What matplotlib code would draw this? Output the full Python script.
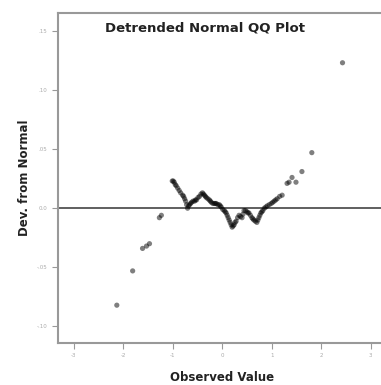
import matplotlib
matplotlib.use('Agg')
from matplotlib import pyplot as plt
import numpy as np

# observed values and their deviation from the normal line
obs = [-2.13, -1.81, -1.61, -1.53, -1.47, -1.27, -1.23,
       -1.01, -0.99, -0.97, -0.95, -0.93, -0.90, -0.87, -0.84, -0.80, -0.78,
       -0.76, -0.74, -0.72, -0.70, -0.68, -0.66, -0.64, -0.62, -0.59, -0.56,
       -0.54, -0.52, -0.49, -0.46, -0.43, -0.40, -0.38, -0.36, -0.34, -0.32,
       -0.29, -0.26, -0.24, -0.22, -0.19, -0.16, -0.14, -0.12, -0.09, -0.06,
       -0.04, -0.02, 0.01, 0.04, 0.06, 0.08, 0.10, 0.12, 0.14, 0.16, 0.18,
       0.20, 0.22, 0.24, 0.26, 0.28, 0.31, 0.34, 0.37, 0.40, 0.42, 0.44,
       0.47, 0.50, 0.52, 0.54, 0.57, 0.60, 0.62, 0.64, 0.67, 0.70, 0.72,
       0.74, 0.76, 0.78, 0.80, 0.82, 0.85, 0.88, 0.91, 0.95, 0.99, 1.02,
       1.05, 1.08, 1.11, 1.16, 1.21,
       1.31, 1.35, 1.41, 1.49, 1.61, 1.81, 2.43]
dev = [-0.082, -0.053, -0.034, -0.032, -0.030, -0.008, -0.006,
       0.023, 0.023, 0.022, 0.020, 0.019, 0.017, 0.015, 0.013, 0.011, 0.010,
       0.008, 0.006, 0.003, 0.000, 0.002, 0.003, 0.004, 0.005, 0.006, 0.006,
       0.007, 0.007, 0.009, 0.010, 0.012, 0.013, 0.012, 0.011, 0.010, 0.009,
       0.008, 0.007, 0.006, 0.005, 0.004, 0.004, 0.004, 0.004, 0.003, 0.003,
       0.002, 0.001, -0.001, -0.002, -0.003, -0.004, -0.006, -0.008, -0.010,
       -0.012, -0.014, -0.016, -0.015, -0.014, -0.012, -0.011, -0.008, -0.006,
       -0.007, -0.008, -0.005, -0.002, -0.002, -0.003, -0.004, -0.004, -0.006,
       -0.008, -0.009, -0.010, -0.011, -0.012, -0.010, -0.008, -0.006, -0.004,
       -0.003, -0.002, 0.000, 0.001, 0.002, 0.003, 0.004, 0.005, 0.006,
       0.007, 0.008, 0.010, 0.011,
       0.021, 0.022, 0.026, 0.022, 0.031, 0.047, 0.123]

xticks = [-3, -2, -1, 0, 1, 2, 3]
xlabels = ['-3', '-2', '-1', '0', '1', '2', '3']
yticks = [0.15, 0.10, 0.05, 0.0, -0.05, -0.10]
ylabels = ['.15', '.10', '.05', '0.0', '-.05', '-.10']

fig = plt.figure(figsize=(3.81, 3.85), dpi=100)
ax = fig.add_axes([0.152, 0.109, 0.86, 0.857])

ax.axhline(0, color='#444444', lw=1.2, zorder=1)
ax.scatter(obs, dev, s=14, color='#000000', alpha=0.5, edgecolors='none', zorder=2)

ax.set_xlim(-3.32, 3.3)
ax.set_ylim(-0.114, 0.165)
ax.set_xticks(xticks)
ax.set_xticklabels(xlabels)
ax.set_yticks(yticks)
ax.set_yticklabels(ylabels)
ax.tick_params(colors='#999999', labelcolor='#aaaaaa', labelsize=4, length=4, width=0.8)

for side in ['left', 'bottom', 'top']:
    ax.spines[side].set_color('#999999')
    ax.spines[side].set_linewidth(1.5)
ax.spines['right'].set_visible(False)

ax.text(0.45, 0.955, 'Detrended Normal QQ Plot', transform=ax.transAxes,
        ha='center', va='center', fontsize=9.5, fontweight='bold', color='#222222')
ax.set_xlabel('Observed Value', fontsize=8.5, fontweight='bold', color='#222222', labelpad=9)
ax.set_ylabel('Dev. from Normal', fontsize=8.5, fontweight='bold', color='#222222', labelpad=4)

fig.savefig('out.png', dpi=100)
